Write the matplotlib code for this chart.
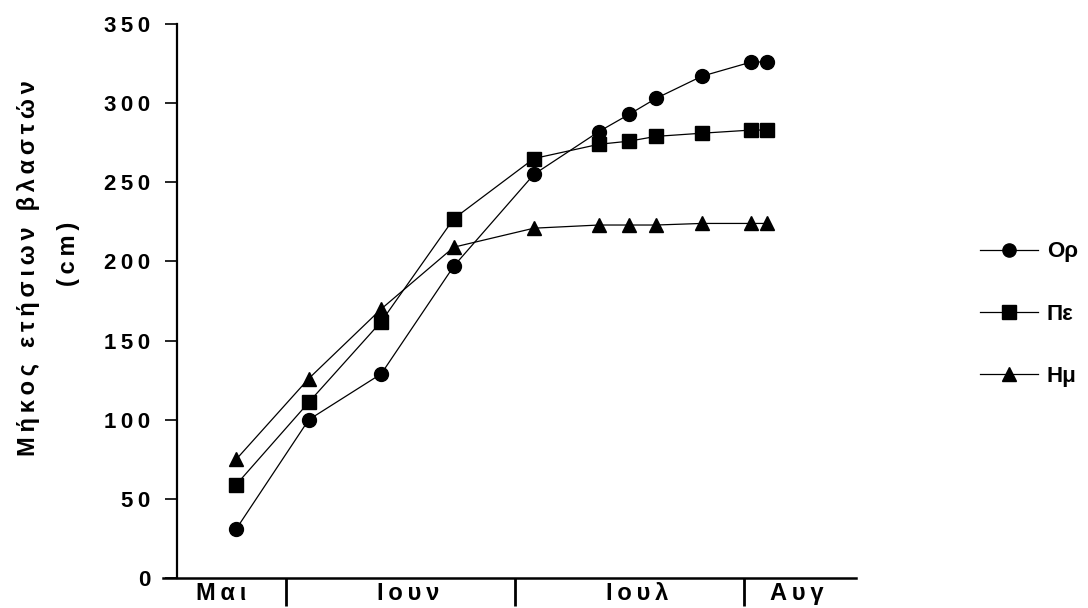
import matplotlib
matplotlib.use('Agg')
import matplotlib.pyplot as plt
from matplotlib.ticker import FixedLocator, FuncFormatter

plt.rcParams['font.family'] = ['Liberation Sans', 'DejaVu Sans']
plt.rcParams['font.weight'] = 'bold'

# ημέρες από 1 Ιουνίου
days = [-6.5, 3, 12.5, 22, 32.5, 41, 45, 48.5, 54.5, 61, 63]
op_vals = [31, 100, 129, 197, 255, 282, 293, 303, 317, 326, 326]
pe_vals = [59, 111, 162, 227, 265, 274, 276, 279, 281, 283, 283]
hm_vals = [75, 126, 170, 209, 221, 223, 223, 223, 224, 224, 224]

series_labels = ['Ορ', 'Πε', 'Ημ']
month_labels = ['Μαι', 'Ιουν', 'Ιουλ', 'Αυγ']
month_centres = [-8.5, 16, 46, 67]
month_bounds = [0, 30, 60]

TS = '\u2009'  # thin space για αραιά γράμματα


def spaced(s):
    return TS.join(s)


fig = plt.figure(figsize=(10.88, 6.08), dpi=100)
ax = fig.add_axes([163 / 1088, 30 / 608, (856 - 163) / 1088, (578 - 24) / 608])

for vals, mk, lab in zip([op_vals, pe_vals, hm_vals], ['o', 's', '^'], series_labels):
    ax.plot(days, vals, color='black', linewidth=0.9, marker=mk, markersize=10,
            markerfacecolor='black', markeredgecolor='black', label=lab)

ax.set_xlim(-16.1, 74.7)
ax.set_ylim(0, 350)

for s in ['top', 'right']:
    ax.spines[s].set_visible(False)
ax.spines['left'].set_position(('data', -14.3))
ax.spines['left'].set_linewidth(1.6)
ax.spines['bottom'].set_linewidth(1.8)

# άξονας y
ax.set_yticks(range(0, 351, 50))
ax.yaxis.set_major_formatter(FuncFormatter(lambda v, p: spaced(str(int(v)))))
ax.tick_params(axis='y', direction='out', length=9, width=1.2, pad=10, labelsize=16)

# άξονας x: όρια μηνών και ονόματα
ax.xaxis.set_major_locator(FixedLocator(month_bounds))
ax.xaxis.set_major_formatter(FuncFormatter(lambda v, p: ''))
ax.xaxis.set_minor_locator(FixedLocator(month_centres))
ax.xaxis.set_minor_formatter(FuncFormatter(
    lambda v, p: spaced(month_labels[month_centres.index(v)]) if v in month_centres else ''))
ax.tick_params(axis='x', which='major', direction='out', length=20, width=2)
ax.tick_params(axis='x', which='minor', length=0, pad=3, labelsize=17)

# τίτλος άξονα y σε δύο γραμμές
fig.text(29 / 1088, 1 - 268 / 608, spaced('Μήκος ετήσιων βλαστών'), rotation=90,
         ha='center', va='center', fontsize=17)
fig.text(69 / 1088, 1 - 254 / 608, spaced('(cm)'), rotation=90,
         ha='center', va='center', fontsize=17)

fig.legend(loc='center left', bbox_to_anchor=(980 / 1088, 1 - 314 / 608),
           frameon=False, fontsize=16, handlelength=2.6, handletextpad=0.4,
           labelspacing=1.85, borderpad=0, borderaxespad=0, markerscale=0.95)

fig.savefig('out.png', dpi=100)
